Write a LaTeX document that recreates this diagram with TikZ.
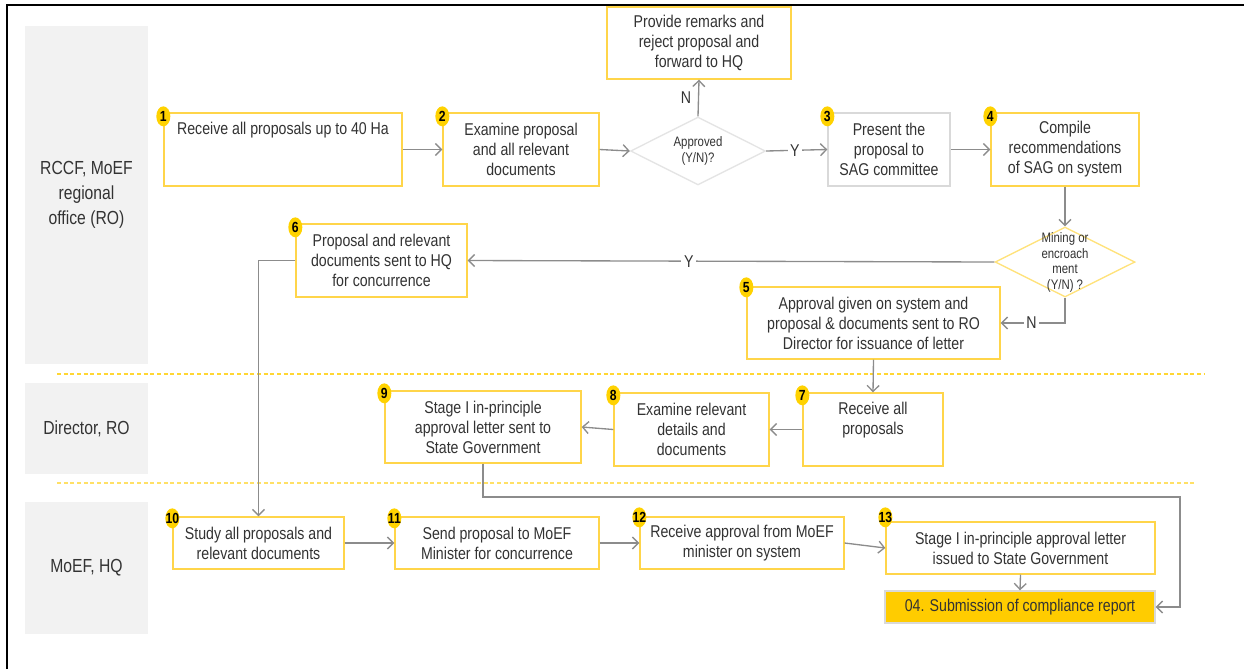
\documentclass[tikz,border=0pt]{standalone}
\usepackage{fontspec}
\setmainfont{Liberation Sans}[FakeStretch=0.83]
\usetikzlibrary{arrows.meta,shapes.geometric,fit,calc}
\definecolor{ybord}{HTML}{FFD54A}
\definecolor{ylight}{HTML}{FFE27A}
\definecolor{gold}{HTML}{FFCC00}
\definecolor{badgecol}{HTML}{FFD200}
\definecolor{lanegray}{HTML}{F2F2F2}
\definecolor{gbord}{HTML}{D9D9D9}
\definecolor{dbord}{HTML}{E4E4E4}
\definecolor{conncol}{HTML}{8C8C8C}
\definecolor{tcol}{HTML}{333333}
\definecolor{dashcol}{HTML}{FFD633}
\newcommand\mybadge[3]{\node[badge] (k#1) at ($(#2.north west)+(0,#3)$) {}; \node[num] (k#1t) at (k#1) {#1};}
\begin{document}
\begin{tikzpicture}[x=0.75pt,y=-0.75pt,
  box/.style={draw=ybord,line width=1pt,inner sep=0pt,fill=white},
  gbox/.style={draw=gbord,line width=1pt,inner sep=0pt,fill=white},
  finbox/.style={draw=gbord,line width=1pt,inner sep=0pt,fill=gold},
  lane/.style={fill=lanegray,inner sep=0pt},
  txt/.style={align=center,text=tcol,font=\fontsize{12.8}{15}\selectfont,inner sep=0pt},
  lanetxt/.style={align=center,text=tcol,font=\fontsize{14.2}{18.75}\selectfont,inner sep=0pt},
  dtxt/.style={align=center,text=tcol,font=\fontsize{10.3}{11.6}\selectfont,inner sep=0pt},
  badge/.style={ellipse,fill=badgecol,minimum width=10.5pt,minimum height=15pt,inner sep=0pt},
  num/.style={font=\fontsize{11}{11}\selectfont\bfseries,text=black,inner sep=0pt},
  conn/.style={draw=conncol,line width=1pt,-{Straight Barb[length=4.5pt,width=9pt]}},
  yn/.style={fill=white,text=tcol,font=\fontsize{12.8}{15}\selectfont,inner sep=2pt},
  dashln/.style={draw=dashcol,line width=1.1pt,dash pattern=on 3pt off 2pt}
]
\useasboundingbox (0,0) rectangle (1244,669);
% frame
\draw[line width=1.9pt,black] (7,669) -- (7,5) -- (1244,5);
% lanes
\node[lane,fit={(25,26) (148,364)}] (L1) {};
\node[lanetxt] (L1t) at (L1.center) {RCCF, MoEF\\regional\\office (RO)};
\node[lane,fit={(25,383) (148,474)}] (L2) {};
\node[lanetxt] (L2t) at (L2.center) {Director, RO};
\node[lane,fit={(25,502) (148,634)}] (L3) {};
\node[lanetxt] (L3t) at (L3.center) {MoEF, HQ};
% dashed separators
\draw[dashln] (57,374) -- (1204,374);
\draw[dashln,opacity=0.75] (57,483) -- (1195,483);
% boxes
\node[box,fit={(607,7) (791,79)}] (top) {};
\node[txt] (topt) at (top.center) {Provide remarks and\\reject proposal and\\forward to HQ};
\node[box,fit={(164,113) (402,186)}] (b1) {};
\node[txt] (b1t) at (283,130) {Receive all proposals up to 40 Ha};
\node[box,fit={(443,113) (599,186)}] (b2) {};
\node[txt] (b2t) at (b2.center) {Examine proposal\\and all relevant\\documents};
\node[diamond,draw=dbord,line width=1pt,fill=white,minimum width=101.25pt,minimum height=51pt,inner sep=0pt] (d1) at (698,151) {};
\node[dtxt] (d1t) at (d1.center) {Approved\\(Y/N)?};
\node[gbox,fit={(828,113) (950,186)}] (b3) {};
\node[txt] (b3t) at (b3.center) {Present the\\proposal to\\SAG committee};
\node[box,fit={(991,113) (1139,186)}] (b4) {};
\node[txt] (b4t) at (b4.center) {Compile\\recommendations\\of SAG on system};
\node[diamond,draw=ylight,line width=1pt,fill=white,minimum width=105pt,minimum height=52.5pt,inner sep=0pt] (d2) at (1065,262) {};
\node[dtxt] (d2t) at (1065,262.5) {Mining or\\encroach\\ment\\(Y/N) ?};
\node[box,fit={(296,224) (467,297)}] (b6) {};
\node[txt] (b6t) at (b6.center) {Proposal and relevant\\documents sent to HQ\\for concurrence};
\node[box,fit={(747,287) (1000,359)}] (b5) {};
\node[txt] (b5t) at (b5.center) {Approval given on system and\\proposal \& documents sent to RO\\Director for issuance of letter};
\node[box,fit={(803,393) (943,466)}] (b7) {};
\node[txt] (b7t) at (873,420) {Receive all\\proposals};
\node[box,fit={(614,393) (769,466)}] (b8) {};
\node[txt] (b8t) at (b8.center) {Examine relevant\\details and\\documents};
\node[box,fit={(385,391) (581,463)}] (b9) {};
\node[txt] (b9t) at (b9.center) {Stage I in-principle\\approval letter sent to\\State Government};
\node[box,fit={(173,517) (344,569)}] (b10) {};
\node[txt] (b10t) at (b10.center) {Study all proposals and\\relevant documents};
\node[box,fit={(395,517) (599,569)}] (b11) {};
\node[txt] (b11t) at (b11.center) {Send proposal to MoEF\\Minister for concurrence};
\node[box,fit={(640,517) (844,569)}] (b12) {};
\node[txt] (b12t) at (b12.center) {Receive approval from MoEF\\minister on system};
\node[box,fit={(886,522) (1155,574)}] (b13) {};
\node[txt] (b13t) at (b13.center) {Stage I in-principle approval letter\\issued to State Government};
\node[finbox,fit={(885,591) (1155,623)}] (fin) {};
\node[txt] (fint) at (fin.center) {04. Submission of compliance report};
% badges
\mybadge{1}{b1}{4}
\mybadge{2}{b2}{4}
\mybadge{3}{b3}{4}
\mybadge{4}{b4}{4}
\mybadge{5}{b5}{1}
\mybadge{6}{b6}{4}
\mybadge{7}{b7}{3}
\mybadge{8}{b8}{3}
\mybadge{9}{b9}{3}
\mybadge{10}{b10}{2}
\mybadge{11}{b11}{2}
\mybadge{12}{b12}{1}
\mybadge{13}{b13}{-4}
% connectors
\draw[conn] (b1.east) -- (b2.west);
\draw[conn] (b2.east) -- (d1.west);
\draw[conn] (d1.north) -- node[yn,fill=none,left,xshift=-3pt] (lN1) {N} (top.south);
\draw[conn] (d1.east) -- node[yn,pos=0.47] (lY1) {Y} (b3.west);
\draw[conn] (b3.east) -- (b4.west);
\draw[conn] (b4.south) -- (d2.north);
\draw[conn] (d2.west) -- node[yn,pos=0.58] (lY2) {Y} (b6.east);
\draw[conn] (d2.south) |- node[yn,pos=0.76] (lN2) {N} (b5.east);
\draw[conn] (b5.south) -- (b7.north);
\draw[conn] (b7.west) -- (b8.east);
\draw[conn] (b8.west) -- (b9.east);
\draw[conn] (b6.west) -| (b10.north);
\coordinate (c1) at (1180,497);
\draw[conn] (b9.south) |- (c1) |- (fin.east);
\draw[conn] (b10.east) -- (b11.west);
\draw[conn] (b11.east) -- (b12.west);
\draw[conn] (b12.east) -- (b13.west);
\draw[conn] (b13.south) -- (fin.north);
\end{tikzpicture}
\end{document}
